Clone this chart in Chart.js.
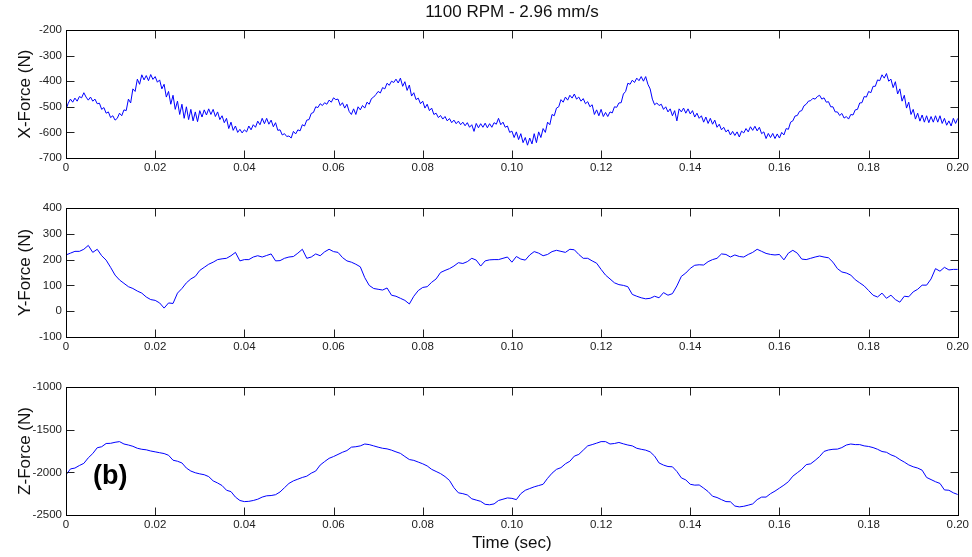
<!DOCTYPE html>
<html>
<head>
<meta charset="utf-8">
<title>1100 RPM - 2.96 mm/s</title>
<script src="https://cdn.jsdelivr.net/npm/chart.js@4.4.1/dist/chart.umd.min.js"></script>
<style>
  html, body { margin: 0; padding: 0; background: #fff; }
  #wrap { position: relative; width: 972px; height: 557px; }
  .panel { position: absolute; left: 0; width: 972px; }
  .panel canvas { display: block; }
</style>
</head>
<body>
<div id="wrap">
  <div class="panel" style="top:0"><canvas id="fx" width="972" height="185"></canvas></div>
  <div class="panel" style="top:185px"><canvas id="fy" width="972" height="185"></canvas></div>
  <div class="panel" style="top:370px"><canvas id="fz" width="972" height="187"></canvas></div>
</div>
<script>
// sample spacing (s) of each recorded channel
const xStep = 0.0005;
const yzStep = 0.001;

const timeTicks = [0, 0.02, 0.04, 0.06, 0.08, 0.10, 0.12, 0.14, 0.16, 0.18, 0.20];
const timeTickLabels = ['0', '0.02', '0.04', '0.06', '0.08', '0.10', '0.12', '0.14', '0.16', '0.18', '0.20'];

const xForceTicks = [-700, -600, -500, -400, -300, -200];
const yForceTicks = [-100, 0, 100, 200, 300, 400];
const zForceTicks = [-2500, -2000, -1500, -1000];

// X-Force (N), 0.5 ms samples
const xForce = [
  -510,-486,-470,-482,-466,-478,-460,-465,-445,-462,-474,-462,-478,-470,-488,-486,-510,-503,-525,-520,
  -542,-535,-552,-545,-525,-535,-512,-515,-470,-485,-430,-440,-392,-412,-375,-395,-378,-398,-374,-393,
  -382,-404,-395,-430,-412,-462,-440,-490,-455,-510,-478,-530,-490,-545,-500,-550,-510,-555,-520,-558,
  -515,-540,-512,-532,-508,-530,-510,-538,-520,-550,-535,-562,-545,-585,-560,-592,-575,-600,-588,-602,
  -590,-598,-575,-590,-570,-580,-556,-570,-545,-566,-545,-568,-552,-578,-562,-592,-590,-610,-605,-616,
  -614,-622,-596,-606,-590,-594,-570,-575,-552,-550,-526,-522,-500,-503,-488,-495,-484,-490,-474,-482,
  -465,-472,-470,-495,-484,-505,-490,-518,-530,-508,-530,-500,-512,-495,-505,-482,-490,-468,-462,-452,
  -440,-446,-425,-430,-408,-416,-400,-405,-392,-407,-388,-420,-402,-436,-415,-458,-445,-472,-466,-488,
  -478,-505,-490,-515,-505,-530,-525,-542,-534,-548,-538,-555,-546,-562,-552,-566,-556,-570,-560,-574,
  -562,-580,-570,-596,-565,-582,-566,-580,-564,-582,-566,-580,-562,-568,-545,-570,-560,-580,-575,-600,
  -595,-620,-598,-628,-605,-640,-620,-650,-622,-645,-605,-640,-598,-620,-585,-600,-560,-570,-530,-535,
  -505,-500,-472,-482,-462,-474,-455,-466,-450,-470,-462,-478,-468,-488,-480,-500,-492,-530,-512,-535,
  -510,-538,-522,-538,-520,-524,-500,-502,-485,-484,-450,-440,-408,-412,-396,-405,-388,-398,-382,-400,
  -382,-412,-430,-470,-492,-485,-495,-490,-510,-500,-520,-508,-535,-515,-555,-508,-520,-505,-525,-508,
  -528,-515,-540,-525,-545,-535,-560,-540,-565,-545,-568,-552,-580,-568,-590,-580,-598,-590,-610,-596,
  -612,-598,-618,-595,-602,-585,-598,-578,-592,-576,-594,-580,-605,-598,-624,-604,-620,-604,-624,-606,
  -622,-600,-610,-585,-588,-560,-555,-536,-534,-518,-515,-496,-490,-478,-476,-467,-470,-460,-455,-470,
  -465,-482,-480,-500,-500,-520,-520,-534,-526,-544,-538,-548,-530,-532,-512,-510,-485,-484,-460,-462,
  -440,-445,-420,-420,-395,-398,-375,-388,-370,-400,-392,-425,-402,-450,-430,-478,-455,-505,-482,-530,
  -510,-548,-525,-556,-532,-560,-535,-562,-538,-560,-535,-560,-535,-565,-545,-572,-555,-575,-545,-565,
  -545
];

// Y-Force (N), 1 ms samples
const yForce = [
  218,225,232,232,240,255,228,240,215,198,
  170,140,121,108,95,88,78,70,55,45,
  42,32,12,32,30,70,88,110,125,135,
  158,170,182,190,200,203,205,215,228,195,
  200,200,210,215,210,216,222,195,196,205,
  210,212,225,240,205,210,222,215,230,240,
  231,228,208,195,190,182,172,130,100,88,
  85,82,90,62,58,50,42,28,58,80,
  92,95,112,125,150,158,165,175,188,185,
  192,205,198,175,195,199,200,200,205,210,
  190,212,202,198,218,231,225,215,220,231,
  236,232,228,240,238,220,205,205,195,186,
  162,140,125,110,103,100,95,65,58,52,
  48,50,58,52,72,62,68,98,135,148,
  166,178,180,179,192,200,205,222,220,210,
  218,212,210,220,228,240,232,224,220,218,
  220,199,225,236,225,202,200,205,210,214,
  210,207,190,165,152,148,140,122,110,98,
  80,62,55,70,50,62,45,35,58,56,
  75,85,101,101,125,165,155,170,160,162,
  162
];

// Z-Force (N), 1 ms samples
const zForce = [
  -2030,-1960,-1950,-1920,-1895,-1830,-1780,-1712,-1700,-1662,
  -1660,-1648,-1640,-1668,-1680,-1695,-1718,-1730,-1736,-1750,
  -1760,-1770,-1780,-1800,-1858,-1870,-1890,-1950,-1985,-2005,
  -2018,-2028,-2050,-2100,-2125,-2155,-2210,-2226,-2290,-2330,
  -2343,-2340,-2330,-2315,-2290,-2275,-2272,-2262,-2230,-2180,
  -2130,-2100,-2080,-2060,-2045,-2010,-1985,-1915,-1874,-1836,
  -1815,-1790,-1765,-1745,-1705,-1700,-1690,-1668,-1675,-1690,
  -1705,-1718,-1725,-1740,-1760,-1778,-1815,-1850,-1860,-1880,
  -1900,-1925,-1965,-1990,-2015,-2050,-2095,-2180,-2240,-2250,
  -2265,-2310,-2325,-2340,-2375,-2380,-2370,-2330,-2315,-2300,
  -2305,-2320,-2250,-2210,-2190,-2170,-2155,-2140,-2070,-2010,
  -1965,-1945,-1900,-1870,-1810,-1790,-1740,-1690,-1675,-1658,
  -1640,-1640,-1668,-1662,-1650,-1666,-1680,-1690,-1718,-1730,
  -1740,-1760,-1810,-1890,-1915,-1932,-1935,-1990,-2065,-2089,
  -2140,-2150,-2148,-2185,-2225,-2280,-2295,-2320,-2343,-2345,
  -2395,-2405,-2398,-2385,-2370,-2320,-2290,-2290,-2250,-2220,
  -2185,-2150,-2110,-2045,-2005,-1965,-1910,-1900,-1860,-1815,
  -1755,-1738,-1730,-1728,-1710,-1680,-1668,-1675,-1675,-1690,
  -1697,-1710,-1730,-1756,-1765,-1795,-1815,-1850,-1880,-1913,
  -1935,-1950,-1975,-2060,-2085,-2110,-2130,-2206,-2210,-2240,
  -2260
];

Chart.defaults.font.family = "'Liberation Sans', Arial, Helvetica, sans-serif";
Chart.defaults.color = '#1a1a1a';

const TICK_LEN = 8;

// axes box with tick marks pointing inwards on all four sides
const axesBox = {
  id: 'axesBox',
  afterDraw(chart) {
    const { ctx, chartArea: a, scales } = chart;
    const L = Math.round(a.left) + 0.5, R = Math.round(a.right) + 0.5;
    const T = Math.round(a.top) + 0.5, B = Math.round(a.bottom) + 0.5;
    ctx.save();
    ctx.lineWidth = 1;
    ctx.strokeStyle = '#222';
    ctx.beginPath();
    scales.x.ticks.forEach(t => {
      const px = Math.round(scales.x.getPixelForValue(t.value)) + 0.5;
      ctx.moveTo(px, T); ctx.lineTo(px, T + TICK_LEN);
      ctx.moveTo(px, B); ctx.lineTo(px, B - TICK_LEN);
    });
    scales.y.ticks.forEach(t => {
      const py = Math.round(scales.y.getPixelForValue(t.value)) + 0.5;
      ctx.moveTo(L, py); ctx.lineTo(L + TICK_LEN, py);
      ctx.moveTo(R, py); ctx.lineTo(R - TICK_LEN, py);
    });
    ctx.stroke();
    ctx.strokeStyle = '#000';
    ctx.strokeRect(L, T, R - L, B - T);
    ctx.restore();
  }
};

// "(b)" panel tag placed in data coordinates of the bottom axes
const panelTag = {
  id: 'panelTag',
  afterDraw(chart, args, opts) {
    if (!opts.text) return;
    const { ctx, scales } = chart;
    ctx.save();
    ctx.font = "bold 27px 'Liberation Sans', Arial, sans-serif";
    ctx.fillStyle = '#000';
    ctx.textAlign = 'center';
    ctx.textBaseline = 'middle';
    ctx.fillText(opts.text, scales.x.getPixelForValue(opts.x), scales.y.getPixelForValue(opts.y));
    ctx.restore();
  }
};

function makeChart(id, values, step, yTicks, yTitle, cfg) {
  const points = values.map((v, i) => ({ x: i * step, y: v }));
  return new Chart(document.getElementById(id), {
    type: 'line',
    data: {
      datasets: [{
        data: points,
        borderColor: '#0000ff',
        borderWidth: 1,
        pointRadius: 0,
        tension: 0,
        fill: false
      }]
    },
    options: {
      responsive: false,
      animation: false,
      parsing: false,
      layout: { padding: { top: cfg.top, right: 13, bottom: 0, left: 0 } },
      plugins: {
        legend: { display: false },
        tooltip: { enabled: false },
        title: cfg.title ? {
          display: true,
          text: cfg.title,
          fullSize: false,
          font: { size: 17, weight: 'normal' },
          color: '#111',
          padding: { top: 2, bottom: 7.6 }
        } : { display: false },
        panelTag: cfg.tag || {}
      },
      scales: {
        x: {
          type: 'linear',
          min: 0,
          max: 0.2,
          afterBuildTicks: s => { s.ticks = timeTicks.map(v => ({ value: v })); },
          afterFit: s => { s.height = cfg.xHeight; },
          grid: { display: false, drawTicks: false },
          border: { display: false },
          ticks: {
            autoSkip: false,
            maxRotation: 0,
            padding: 3,
            font: { size: 11.5 },
            color: '#222',
            callback: (v, i) => timeTickLabels[i]
          },
          title: cfg.xTitle ? {
            display: true,
            text: cfg.xTitle,
            font: { size: 17 },
            color: '#111',
            padding: { top: 0, bottom: 3.8 }
          } : { display: false }
        },
        y: {
          min: yTicks[0],
          max: yTicks[yTicks.length - 1],
          afterBuildTicks: s => { s.ticks = yTicks.map(v => ({ value: v })); },
          afterFit: s => { s.width = 66; },
          grid: { display: false, drawTicks: false },
          border: { display: false },
          ticks: {
            padding: 4,
            font: { size: 11.5 },
            color: '#222',
            callback: v => String(v)
          },
          title: {
            display: true,
            text: yTitle,
            font: { size: 17 },
            color: '#111',
            padding: { top: 15.3, bottom: 0 }
          }
        }
      }
    },
    plugins: [axesBox, panelTag]
  });
}

makeChart('fx', xForce, xStep, xForceTicks, 'X-Force (N)', {
  top: 0, xHeight: 27, title: '1100 RPM - 2.96 mm/s'
});
makeChart('fy', yForce, yzStep, yForceTicks, 'Y-Force (N)', {
  top: 23, xHeight: 33
});
makeChart('fz', zForce, yzStep, zForceTicks, 'Z-Force (N)', {
  top: 17, xHeight: 42, xTitle: 'Time (sec)',
  tag: { text: '(b)', x: 0.0099, y: -2055 }
});
</script>
</body>
</html>
